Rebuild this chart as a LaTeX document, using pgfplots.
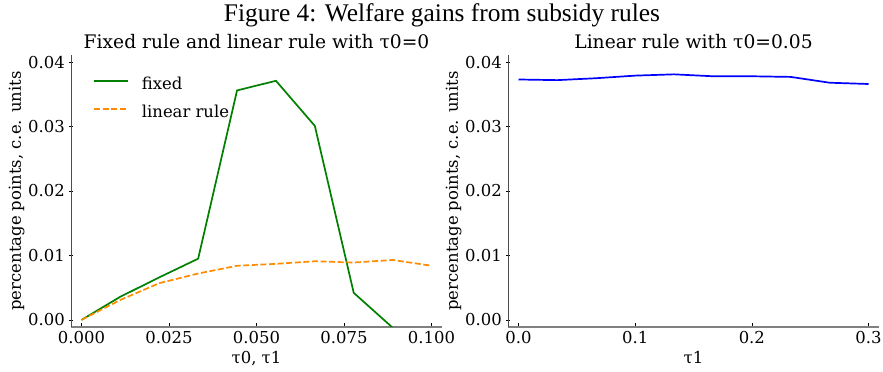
\documentclass[border=0pt]{standalone}
\usepackage{fontspec}
\setmainfont{DejaVu Serif}
\newfontfamily\titlefont{Liberation Serif}
\usepackage{pgfplots}
\pgfplotsset{compat=1.18}

\definecolor{mplgreen}{HTML}{008000}
\definecolor{mplorange}{HTML}{FF8C00}
\definecolor{mplblue}{HTML}{0000FF}

\pgfplotsset{
  welfare/.style={
    width=371bp, height=272bp, scale only axis,
    axis x line=bottom, axis y line=left,
    x axis line style={-, draw=gray, line width=1.3bp},
    y axis line style={-, draw=black!70, line width=0.8bp},
    xtick align=inside, ytick align=center,
    major tick length=4bp,
    every tick/.style={black, line width=0.6bp},
    scaled y ticks=false, scaled x ticks=false,
    /pgf/number format/assume math mode=true,
    tick label style={font=\fontsize{16.5}{19}\selectfont},
    xticklabel style={anchor=base, yshift=-16.5bp},
    yticklabel style={anchor=east, inner sep=0pt, xshift=-4bp},
    label style={font=\fontsize{16.5}{19}\selectfont},
    xlabel style={at={(axis description cs:0.5,-0.1324)}, anchor=base},
    ylabel style={at={(axis description cs:-0.1348,0.5)}, anchor=base},
    title style={font=\fontsize{18.75}{22}\selectfont, at={(axis description cs:0.5,1)}, anchor=base, yshift=1bp},
    ymin=-0.0011, ymax=0.0411,
    ytick={0,0.01,0.02,0.03,0.04},
    yticklabels={0.00,0.01,0.02,0.03,0.04},
    ylabel={percentage points, c.e. units},
  }
}

\begin{document}
\begin{tikzpicture}
\useasboundingbox (0bp,0bp) rectangle (883bp,372bp);

\node[anchor=base, inner sep=0pt, font=\titlefont\fontsize{25.5}{30}\selectfont]
  at (442bp,350bp) {Figure 4: Welfare gains from subsidy rules};

% fixed rule vs. linear rule with tau0 = 0
\begin{axis}[welfare,
  at={(71bp,45bp)}, anchor=south west,
  title={Fixed rule and linear rule with τ0=0},
  xlabel={τ0, τ1},
  xmin=-0.003, xmax=0.103,
  xtick={0,0.025,0.05,0.075,0.1},
  xticklabels={0.000,0.025,0.050,0.075,0.100},
  legend style={draw=none, fill=none, at={(axis description cs:0,1)}, anchor=north west,
    xshift=22bp, yshift=-23bp, inner sep=0pt, row sep=12.5bp,
    font=\fontsize{16.5}{19}\selectfont,
    nodes={inner sep=0pt, text height=11.5bp, text depth=3.5bp}},
  legend cell align=left,
]
\addlegendimage{legend image code/.code={\draw[draw=mplgreen, line width=1.7bp] (0bp,4.5bp) -- (34bp,4.5bp);}}
\addlegendentry{\hspace{13bp}fixed}
\addlegendimage{legend image code/.code={\draw[draw=mplorange, line width=1.7bp, dash pattern=on 6bp off 2.6bp] (0bp,4.5bp) -- (34bp,4.5bp);}}
\addlegendentry{\hspace{13bp}linear rule}
\addplot[draw=mplgreen, line width=1.7bp, forget plot] coordinates {
  (0,0) (0.011111,0.0036) (0.022222,0.0066) (0.033333,0.0095)
  (0.044444,0.0356) (0.055556,0.0371) (0.066667,0.0301)
  (0.077778,0.0042) (0.088889,-0.0012) (0.1,-0.0066)};
\addplot[draw=mplorange, line width=1.7bp, dash pattern=on 6bp off 2.6bp, forget plot] coordinates {
  (0,0) (0.011111,0.0031) (0.022222,0.0057) (0.033333,0.0072)
  (0.044444,0.0084) (0.055556,0.0087) (0.066667,0.0091)
  (0.077778,0.0089) (0.088889,0.0093) (0.1,0.0084)};
\end{axis}

% linear rule with tau0 = 0.05
\begin{axis}[welfare,
  at={(508bp,45bp)}, anchor=south west,
  title={Linear rule with τ0=0.05},
  xlabel={τ1},
  xmin=-0.009, xmax=0.309,
  xtick={0,0.1,0.2,0.3},
  xticklabels={0.0,0.1,0.2,0.3},
]
\addplot[draw=mplblue, line width=1.7bp] coordinates {
  (0,0.0373) (0.033333,0.0372) (0.066667,0.0375) (0.1,0.0379)
  (0.133333,0.0381) (0.166667,0.0378) (0.2,0.0378) (0.233333,0.0377)
  (0.266667,0.0368) (0.3,0.0366)};
\end{axis}
\end{tikzpicture}
\end{document}
